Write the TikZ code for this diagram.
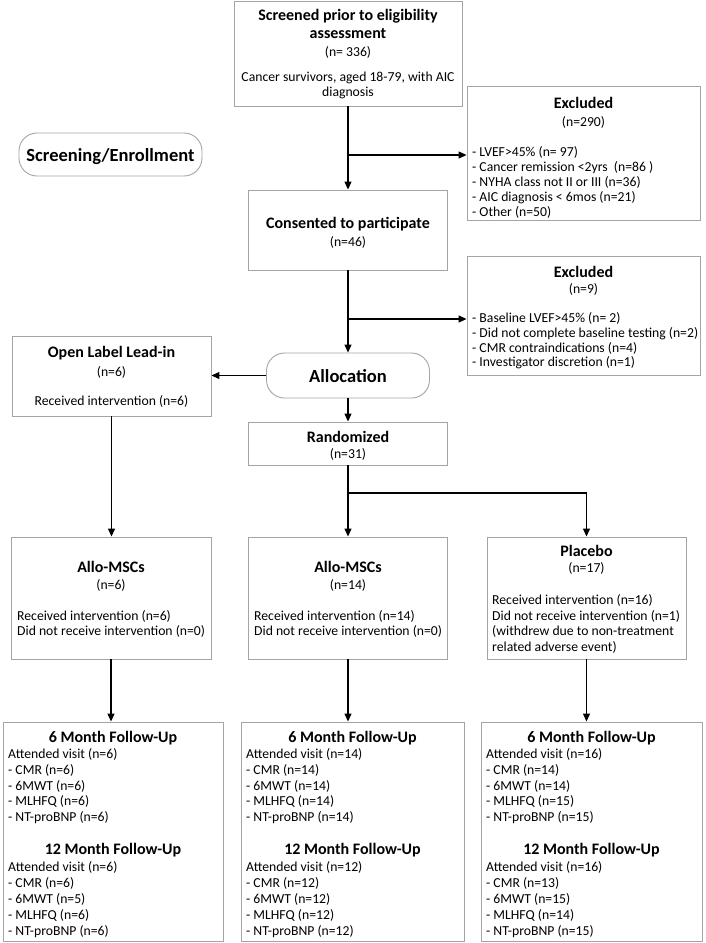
\documentclass[tikz,border=0pt]{standalone}
\usepackage{fontspec}
\setmainfont{Carlito}
\usetikzlibrary{arrows.meta}
\definecolor{boxgray}{RGB}{165,165,165}
\newcommand{\fucol}[5]{%
  \node[head, anchor=base] (#1h6) at (#2,742) {6 Month Follow-Up};
  \foreach \t [count=\i from 0] in {#4} {\node[body, anchor=base west] (#1s\i) at (#3,{758.5+15.75*\i}) {\t};}
  \node[head, anchor=base] (#1h12) at (#2,854) {12 Month Follow-Up};
  \foreach \t [count=\i from 0] in {#5} {\node[body, anchor=base west] (#1t\i) at (#3,{871.5+15.9*\i}) {\t};}
}
\begin{document}
\begin{tikzpicture}[x=1pt,y=-1pt,
  box/.style={draw=boxgray, line width=0.9pt, fill=white, inner sep=0pt, rectangle},
  pill/.style={box, rounded corners=18pt},
  body/.style={inner sep=0pt, font=\fontsize{13.7}{15}\selectfont},
  head/.style={inner sep=0pt, font=\fontsize{16}{19}\selectfont\bfseries},
  big/.style={inner sep=0pt, font=\fontsize{18.5}{22}\selectfont\bfseries},
  link/.style={line width=1.2pt, -{Triangle[length=8pt,width=7pt]}},
  wire/.style={line width=1.2pt}]
\useasboundingbox (0,0) rectangle (705,943);
\fill[white] (0,0) rectangle (705,943);

% boxes
\node[box, minimum width=228pt, minimum height=105pt] (scr) at (348,53.5) {};
\node[box, minimum width=233pt, minimum height=134pt] (exc1) at (583.5,153) {};
\node[pill, minimum width=183pt, minimum height=43pt] (senr) at (110.5,154.5) {};
\node[box, minimum width=199pt, minimum height=80pt] (cons) at (348,230) {};
\node[box, minimum width=233pt, minimum height=119pt] (exc2) at (583.5,315.5) {};
\node[box, minimum width=199pt, minimum height=80pt] (olab) at (111.5,376) {};
\node[pill, minimum width=163pt, minimum height=45pt] (alloc) at (348,375.5) {};
\node[box, minimum width=199pt, minimum height=43pt] (rand) at (348,443.5) {};
\node[box, minimum width=200pt, minimum height=122pt] (am1) at (111,598) {};
\node[box, minimum width=199pt, minimum height=122pt] (am2) at (348,598) {};
\node[box, minimum width=199pt, minimum height=122pt] (plac) at (586.5,598) {};
\node[box, minimum width=220pt, minimum height=219pt] (fu1) at (113,831.5) {};
\node[box, minimum width=223pt, minimum height=219pt] (fu2) at (352.5,831.5) {};
\node[box, minimum width=221pt, minimum height=219pt] (fu3) at (591.5,831.5) {};

% connectors
\coordinate (b1) at (scr.south |- 0,155);
\coordinate (b2) at (cons.south |- 0,319);
\coordinate (b3) at (rand.south |- 0,493);
\draw[link] (scr.south) -- (cons.north);
\draw[link] (b1) -- (b1 -| exc1.west);
\draw[link] (cons.south) -- (alloc.north);
\draw[link] (b2) -- (b2 -| exc2.west);
\draw[link] (alloc.west) -- (alloc.west -| olab.east);
\draw[link] (alloc.south) -- (rand.north);
\draw[link] (rand.south) -- (am2.north);
\draw[link] (b3) -| (plac.north);
\draw[link] (olab.south) -- (olab.south |- am1.north);
\draw[link] (am1.south) -- (am1.south |- fu1.north);
\draw[link] (am2.south) -- (am2.south |- fu2.north);
\draw[link] (plac.south) -- (plac.south |- fu3.north);

% texts
\node[head, anchor=base] (scrA) at (348,20) {Screened prior to eligibility};
\node[head, anchor=base] (scrB) at (348,38) {assessment};
\node[body, anchor=base] (scrC) at (348,56.5) {(n= 336)};
\node[body, anchor=base] (scrD) at (348,81.5) {Cancer survivors, aged 18-79, with AIC};
\node[body, anchor=base] (scrE) at (348,96.5) {diagnosis};

\node[head, anchor=base] (exaA) at (583.5,108) {Excluded};
\node[body, anchor=base] (exaB) at (583.5,126.5) {(n=290)};
\foreach \t [count=\i from 0] in {- LVEF>45\% (n= 97), - Cancer remission <2yrs~ (n=86 ), - NYHA class not II or III (n=36), - AIC diagnosis < 6mos (n=21), - Other (n=50)}
  {\node[body, anchor=base west] (exa\i) at (472,{156.5+15*\i}) {\t};}

\node[big, anchor=base] (senrT) at (110.5,161) {Screening/Enrollment};

\node[head, anchor=base] (consA) at (348,228) {Consented to participate};
\node[body, anchor=base] (consB) at (348,246.5) {(n=46)};

\node[head, anchor=base] (exbA) at (583.5,277) {Excluded};
\node[body, anchor=base] (exbB) at (583.5,293.5) {(n=9)};
\foreach \t [count=\i from 0] in {- Baseline LVEF>45\% (n= 2), - Did not complete baseline testing (n=2), - CMR contraindications (n=4), - Investigator discretion (n=1)}
  {\node[body, anchor=base west] (exb\i) at (472,{322.5+14.8*\i}) {\t};}

\node[head, anchor=base] (olabA) at (111.5,357) {Open Label Lead-in};
\node[body, anchor=base] (olabB) at (111.5,376.5) {(n=6)};
\node[body, anchor=base] (olabC) at (111.5,405.5) {Received intervention (n=6)};

\node[big, anchor=base] (allocT) at (348,382) {Allocation};

\node[head, anchor=base] (randA) at (348,442) {Randomized};
\node[body, anchor=base] (randB) at (348,458.5) {(n=31)};

\node[head, anchor=base] (am1A) at (111,572) {Allo-MSCs};
\node[body, anchor=base] (am1B) at (111,589.5) {(n=6)};
\node[body, anchor=base west] (am1C) at (17,620.5) {Received intervention (n=6)};
\node[body, anchor=base west] (am1D) at (17,635.5) {Did not receive intervention (n=0)};

\node[head, anchor=base] (am2A) at (348,572) {Allo-MSCs};
\node[body, anchor=base] (am2B) at (348,589.5) {(n=14)};
\node[body, anchor=base west] (am2C) at (254,620.5) {Received intervention (n=14)};
\node[body, anchor=base west] (am2D) at (254,635.5) {Did not receive intervention (n=0)};

\node[head, anchor=base] (placA) at (586.5,556) {Placebo};
\node[body, anchor=base] (placB) at (586.5,572.5) {(n=17)};
\foreach \t [count=\i from 0] in {{Received intervention (n=16)}, {Did not receive intervention (n=1)}, {(withdrew due to non-treatment}, {related adverse event)}}
  {\node[body, anchor=base west] (plac\i) at (492,{604.5+15.7*\i}) {\t};}

\fucol{fa}{113}{8}{Attended visit (n=6), - CMR (n=6), - 6MWT (n=6), - MLHFQ (n=6), - NT-proBNP (n=6)}{Attended visit (n=6), - CMR (n=6), - 6MWT (n=5), - MLHFQ (n=6), - NT-proBNP (n=6)}
\fucol{fb}{352.5}{246}{Attended visit (n=14), - CMR (n=14), - 6MWT (n=14), - MLHFQ (n=14), - NT-proBNP (n=14)}{Attended visit (n=12), - CMR (n=12), - 6MWT (n=12), - MLHFQ (n=12), - NT-proBNP (n=12)}
\fucol{fc}{591.5}{486}{Attended visit (n=16), - CMR (n=14), - 6MWT (n=14), - MLHFQ (n=15), - NT-proBNP (n=15)}{Attended visit (n=16), - CMR (n=13), - 6MWT (n=15), - MLHFQ (n=14), - NT-proBNP (n=15)}
\end{tikzpicture}
\end{document}
